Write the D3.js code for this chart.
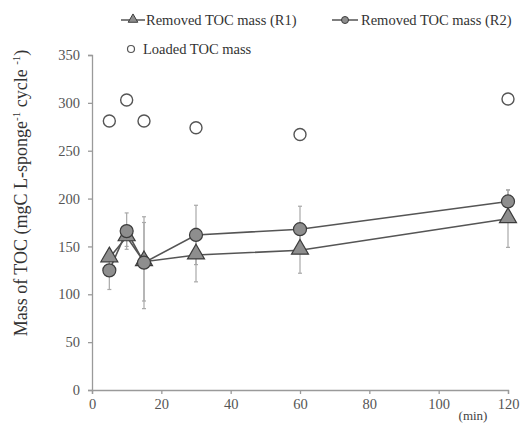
<!DOCTYPE html>
<html><head><meta charset="utf-8">
<script src="https://cdn.jsdelivr.net/npm/d3@7"></script>
<style>body{margin:0;background:#fff}svg{display:block}</style>
</head><body>
<script>
const times = [5, 10, 15, 30, 60, 120];
const loaded = [281, 303, 281, 274, 267, 304];
const r1 = [138, 160, 134, 141, 146, 179];
const r1Err = [8, 10, 41, 28, 24, 30];
const r2 = [125, 166, 133, 162, 168, 197];
const r2Err = [20, 19, 48, 31, 24, 12];
const xTicks = [0, 20, 40, 60, 80, 100, 120];
const yTicks = [0, 50, 100, 150, 200, 250, 300, 350];

const W = 527, H = 425;
const svg = d3.select("body").append("svg").attr("width", W).attr("height", H);
const font = "'Liberation Serif','Times New Roman',serif";
const x = d3.scaleLinear().domain([0, 120]).range([92, 508]);
const y = d3.scaleLinear().domain([0, 350]).range([390, 55]);

const axisColor = "#9a9a9a";
const xAxis = svg.append("g").attr("transform", "translate(0,390)")
  .call(d3.axisBottom(x).tickValues(xTicks).tickSize(4).tickPadding(5));
const yAxis = svg.append("g").attr("transform", "translate(92,0)")
  .call(d3.axisLeft(y).tickValues(yTicks).tickSize(4).tickPadding(8));
[xAxis, yAxis].forEach(g => {
  g.select(".domain").attr("stroke", axisColor).attr("stroke-width", 1.3);
  g.selectAll(".tick line").attr("stroke", axisColor).attr("stroke-width", 1.3);
  g.selectAll(".tick text").attr("fill", "#555").style("font-family", font).style("font-size", "14.5px");
});

svg.append("text").attr("x", 473).attr("y", 420).attr("text-anchor", "middle")
  .style("font-family", font).style("font-size", "13px").attr("fill", "#444").text("(min)");

const yl = svg.append("text")
  .attr("transform", "translate(27,193) rotate(-90)").attr("text-anchor", "middle")
  .style("font-family", font).style("font-size", "18px").attr("fill", "#333");
yl.append("tspan").text("Mass of TOC (mgC L-sponge");
yl.append("tspan").attr("dy", -7).style("font-size", "11px").text("-1");
yl.append("tspan").attr("dy", 7).text(" cycle ");
yl.append("tspan").attr("dy", -7).style("font-size", "11px").text("-1");
yl.append("tspan").attr("dy", 7).text(")");

// error bars
function errBars(vals, errs) {
  const g = svg.append("g").attr("stroke", "#a8a8a8").attr("stroke-width", 1.2);
  times.forEach((t, i) => {
    const cx = x(t), lo = y(vals[i] - errs[i]), hi = y(vals[i] + errs[i]);
    g.append("line").attr("x1", cx).attr("x2", cx).attr("y1", lo).attr("y2", hi);
    g.append("line").attr("x1", cx - 2).attr("x2", cx + 2).attr("y1", lo).attr("y2", lo);
    g.append("line").attr("x1", cx - 2).attr("x2", cx + 2).attr("y1", hi).attr("y2", hi);
  });
}
errBars(r2, r2Err);
errBars(r1, r1Err);

const line = d3.line().x((d, i) => x(times[i])).y(d => y(d));
svg.append("path").datum(r1).attr("d", line).attr("fill", "none").attr("stroke", "#555").attr("stroke-width", 1.6);
svg.append("path").datum(r2).attr("d", line).attr("fill", "none").attr("stroke", "#555").attr("stroke-width", 1.6);

const tri = d3.symbol().type(d3.symbolTriangle).size(125);
svg.append("g").selectAll("path").data(r1).join("path")
  .attr("d", tri).attr("transform", (d, i) => `translate(${x(times[i])},${y(d) - 1})`)
  .attr("fill", "#8e8e8e").attr("stroke", "#3c3c3c").attr("stroke-width", 1.2);
svg.append("g").selectAll("circle").data(r2).join("circle")
  .attr("cx", (d, i) => x(times[i])).attr("cy", d => y(d)).attr("r", 6.5)
  .attr("fill", "#8e8e8e").attr("stroke", "#3c3c3c").attr("stroke-width", 1.2);
svg.append("g").selectAll("circle").data(loaded).join("circle")
  .attr("cx", (d, i) => x(times[i])).attr("cy", d => y(d)).attr("r", 6)
  .attr("fill", "#fff").attr("stroke", "#555").attr("stroke-width", 1.4);

// legend
const lg = svg.append("g").style("font-family", font).style("font-size", "14.5px").attr("fill", "#333");
lg.append("line").attr("x1", 121).attr("x2", 145).attr("y1", 20).attr("y2", 20).attr("stroke", "#555").attr("stroke-width", 1.5);
lg.append("path").attr("d", d3.symbol().type(d3.symbolTriangle).size(40)).attr("transform", "translate(133,19.5)")
  .attr("fill", "#8e8e8e").attr("stroke", "#3c3c3c").attr("stroke-width", 1);
lg.append("text").attr("x", 146).attr("y", 25).text("Removed TOC mass (R1)");
lg.append("line").attr("x1", 332).attr("x2", 358).attr("y1", 20).attr("y2", 20).attr("stroke", "#555").attr("stroke-width", 1.5);
lg.append("circle").attr("cx", 345).attr("cy", 20).attr("r", 3.5).attr("fill", "#8e8e8e").attr("stroke", "#3c3c3c");
lg.append("text").attr("x", 361).attr("y", 25).text("Removed TOC mass (R2)");
lg.append("circle").attr("cx", 131).attr("cy", 49).attr("r", 3.5).attr("fill", "#fff").attr("stroke", "#555").attr("stroke-width", 1.2);
lg.append("text").attr("x", 143).attr("y", 54).text("Loaded TOC mass");
</script>
</body></html>
